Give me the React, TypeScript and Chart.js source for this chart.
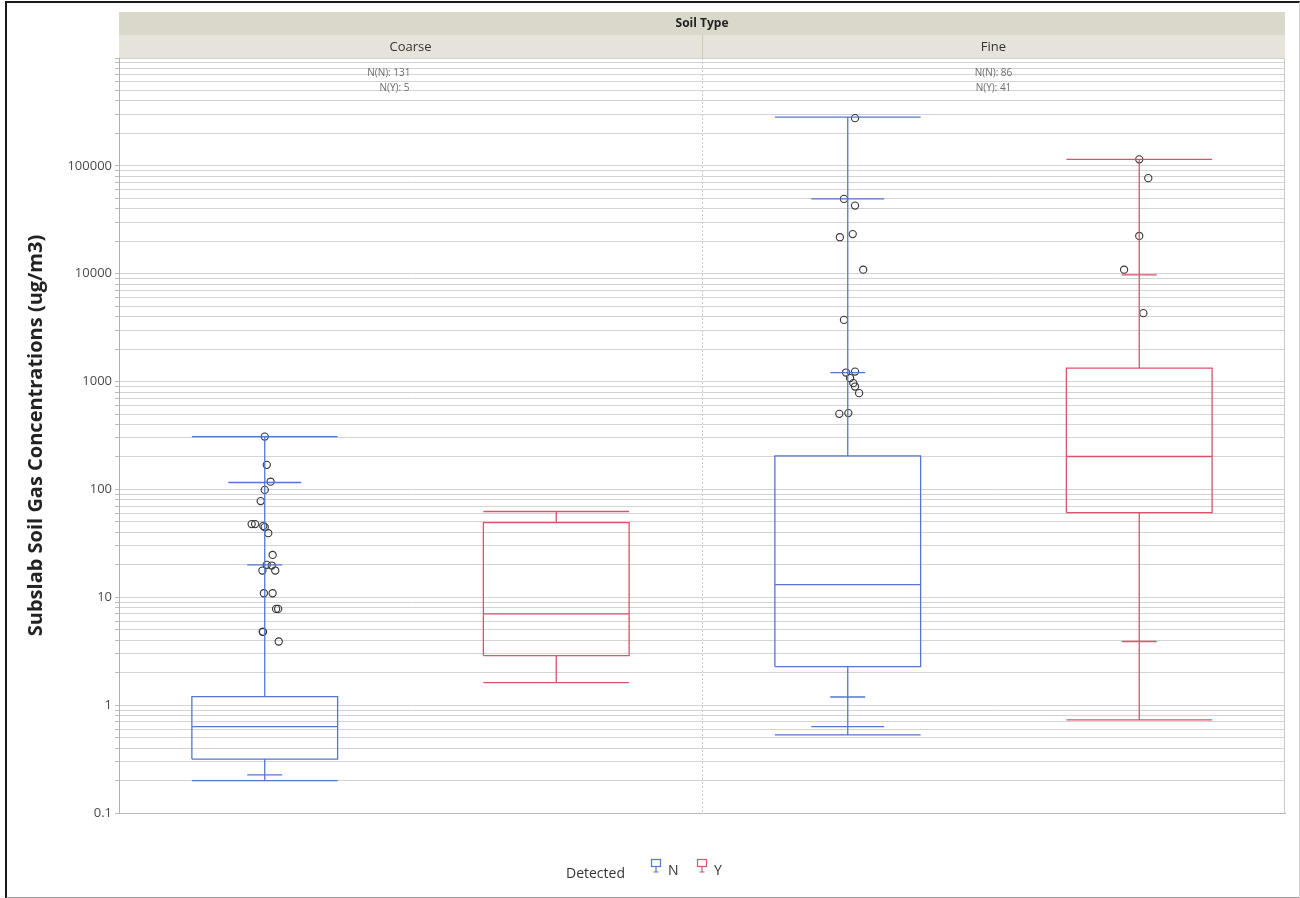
import React, { useEffect, useRef } from 'react';
import { Chart, registerables } from 'chart.js';

Chart.register(...registerables);

// ---------- data ----------
const soilTypes = ['Coarse', 'Fine'];
const detectedLevels = ['N', 'Y'];
// groups in drawing order: Coarse-N, Coarse-Y, Fine-N, Fine-Y
const groupDetected = ['N', 'Y', 'N', 'Y'];
const countN = [131, 86];
const countY = [5, 41];

const boxQ1 = [0.316, 2.88, 2.28, 61];
const boxMedian = [0.633, 7.02, 13.1, 202];
const boxQ3 = [1.2, 49.3, 205, 1331];
const extremeLow = [0.2, 1.62, 0.531, 0.73];
const extremeHigh = [309, 62.4, 283000, 115000];
const innerLow: (number | null)[] = [null, null, 0.633, null];
const innerHigh: (number | null)[] = [116, null, 49400, 115000];
const fenceLow: (number | null)[] = [0.226, null, 1.19, 3.89];
const fenceHigh: (number | null)[] = [20, null, 1213, 9750];

const coarseNPoints = [309, 169, 118, 99, 78, 47.7, 47.7, 45.9, 44.7, 39.3, 24.7, 20, 19.7, 17.7, 17.7, 10.9, 10.9, 7.8, 7.8, 4.78, 4.78, 3.89];
const coarseNJitter = [0, 0.007, 0.02, 0, -0.014, -0.045, -0.033, -0.005, 0, 0.012, 0.027, 0.007, 0.024, -0.008, 0.036, -0.003, 0.027, 0.039, 0.046, -0.007, -0.006, 0.048];
const coarseYPoints: number[] = [];
const coarseYJitter: number[] = [];
const fineNPoints = [277000, 49400, 42800, 23300, 21800, 10900, 3730, 1213, 1238, 1076, 967, 899, 781, 502, 510];
const fineNJitter = [0.025, -0.013, 0.025, 0.017, -0.027, 0.053, -0.013, -0.006, 0.025, 0.008, 0.019, 0.025, 0.039, -0.029, 0.002];
const fineYPoints = [115000, 76900, 22400, 10900, 4310];
const fineYJitter = [0, 0.031, 0, -0.052, 0.014];

const groupPoints = [coarseNPoints, coarseYPoints, fineNPoints, fineYPoints];
const groupJitter = [coarseNJitter, coarseYJitter, fineNJitter, fineYJitter];

const yTickValues = [0.1, 1, 10, 100, 1000, 10000, 100000];
const yTickLabels = ['0.1', '1', '10', '100', '1000', '10000', '100000'];

const yTitle = 'Subslab Soil Gas Concentrations (ug/m3)';
const facetTitle = 'Soil Type';
const legendTitle = 'Detected';

// ---------- styling ----------
const colorFor: Record<string, string> = { N: '#5476d2', Y: '#da546c' };
const FONT = "'Open Sans', 'Noto Sans', sans-serif";

function buildMinorTicks(): number[] {
  const out: number[] = [];
  for (let e = -1; e <= 5; e++) {
    for (let m = 1; m <= 9; m++) out.push(Number((m * Math.pow(10, e)).toPrecision(3)));
  }
  out.push(1000000);
  return out;
}

type P = { x: number; y: number | null };

function boxSegments(i: number): P[] {
  const c = i + 0.5;
  const hw = 0.25;
  const mw = 0.125;
  const sw = 0.06;
  const pts: P[] = [];
  const seg = (...p: P[]) => {
    pts.push(...p, { x: c, y: null });
  };
  const q1 = boxQ1[i], q3 = boxQ3[i], med = boxMedian[i];
  seg({ x: c - hw, y: q1 }, { x: c + hw, y: q1 }, { x: c + hw, y: q3 }, { x: c - hw, y: q3 }, { x: c - hw, y: q1 });
  seg({ x: c - hw, y: med }, { x: c + hw, y: med });
  seg({ x: c, y: q3 }, { x: c, y: extremeHigh[i] });
  seg({ x: c, y: q1 }, { x: c, y: extremeLow[i] });
  seg({ x: c - hw, y: extremeHigh[i] }, { x: c + hw, y: extremeHigh[i] });
  seg({ x: c - hw, y: extremeLow[i] }, { x: c + hw, y: extremeLow[i] });
  const il = innerLow[i], ih = innerHigh[i], fl = fenceLow[i], fh = fenceHigh[i];
  if (ih != null) seg({ x: c - mw, y: ih }, { x: c + mw, y: ih });
  if (il != null) seg({ x: c - mw, y: il }, { x: c + mw, y: il });
  if (fh != null) seg({ x: c - sw, y: fh }, { x: c + sw, y: fh });
  if (fl != null) seg({ x: c - sw, y: fl }, { x: c + sw, y: fl });
  return pts;
}

function drawLegendIcon(ctx: CanvasRenderingContext2D, x: number, y: number, color: string) {
  ctx.save();
  ctx.strokeStyle = color;
  ctx.lineWidth = 1.2;
  ctx.strokeRect(x + 0.5, y + 0.5, 9, 7);
  ctx.beginPath();
  ctx.moveTo(x + 5, y + 7.5);
  ctx.lineTo(x + 5, y + 13);
  ctx.moveTo(x + 2.5, y + 13);
  ctx.lineTo(x + 7.5, y + 13);
  ctx.stroke();
  ctx.restore();
}

const decorPlugin = {
  id: 'decor',
  beforeDraw(chart: any) {
    const { ctx, chartArea: a, scales } = chart;
    const x = scales.x;
    ctx.save();
    ctx.fillStyle = '#ffffff';
    ctx.fillRect(0, 0, chart.width, chart.height);
    // facet header
    ctx.fillStyle = '#dad7cb';
    ctx.fillRect(a.left, a.top - 46, a.right - a.left, 23);
    ctx.fillStyle = '#e6e3da';
    ctx.fillRect(a.left, a.top - 23, a.right - a.left, 23);
    const mid = x.getPixelForValue(2);
    ctx.strokeStyle = '#cfccc1';
    ctx.lineWidth = 1;
    ctx.beginPath();
    ctx.moveTo(Math.round(mid) + 0.5, a.top - 23);
    ctx.lineTo(Math.round(mid) + 0.5, a.top);
    ctx.stroke();
    ctx.fillStyle = '#222';
    ctx.textAlign = 'center';
    ctx.textBaseline = 'middle';
    ctx.font = `bold 12px ${FONT}`;
    ctx.fillText(facetTitle, (a.left + a.right) / 2, a.top - 34);
    ctx.font = `13px ${FONT}`;
    ctx.fillStyle = '#333';
    soilTypes.forEach((s, k) => {
      const cx = (x.getPixelForValue(k * 2) + x.getPixelForValue(k * 2 + 2)) / 2;
      ctx.fillText(s, cx, a.top - 11);
    });
    ctx.restore();
  },
  beforeDatasetsDraw(chart: any) {
    const { ctx, chartArea: a, scales } = chart;
    const x = scales.x;
    ctx.save();
    const mid = Math.round(x.getPixelForValue(2)) + 0.5;
    ctx.strokeStyle = '#cccccc';
    ctx.lineWidth = 1;
    ctx.setLineDash([2, 2]);
    ctx.beginPath();
    ctx.moveTo(mid, a.top);
    ctx.lineTo(mid, a.bottom);
    ctx.stroke();
    ctx.setLineDash([]);
    ctx.strokeStyle = '#c8c8c8';
    ctx.beginPath();
    ctx.moveTo(Math.round(a.right) - 0.5, a.top);
    ctx.lineTo(Math.round(a.right) - 0.5, a.bottom);
    ctx.stroke();
    // counts
    ctx.font = `10px ${FONT}`;
    ctx.fillStyle = '#6b6b6b';
    ctx.textBaseline = 'middle';
    soilTypes.forEach((s, k) => {
      const cx = (x.getPixelForValue(k * 2) + x.getPixelForValue(k * 2 + 2)) / 2;
      ctx.textAlign = k === 0 ? 'right' : 'center';
      ctx.fillText(`N(N): ${countN[k]}`, cx, a.top + 15);
      ctx.fillText(`N(Y): ${countY[k]}`, cx - (k === 0 ? 1 : 0), a.top + 30);
    });
    ctx.restore();
  },
  afterDraw(chart: any) {
    const { ctx } = chart;
    ctx.save();
    ctx.font = `14px ${FONT}`;
    ctx.fillStyle = '#333';
    ctx.textBaseline = 'middle';
    ctx.textAlign = 'left';
    ctx.fillText(legendTitle, 566, 874);
    let lx = 651;
    detectedLevels.forEach((d) => {
      drawLegendIcon(ctx, lx, 859, colorFor[d]);
      ctx.fillStyle = '#333';
      ctx.fillText(d, lx + 17, 871);
      lx += 46;
    });
    ctx.restore();
  },
};

export default function App() {
  const ref = useRef<HTMLCanvasElement | null>(null);

  useEffect(() => {
    if (!ref.current) return;
    Chart.defaults.font.family = FONT;
    const minorTicks = buildMinorTicks();

    const datasets: any[] = [];
    groupDetected.forEach((d, i) => {
      datasets.push({
        label: `box-${i}`,
        data: boxSegments(i),
        showLine: true,
        spanGaps: false,
        borderColor: colorFor[d],
        borderWidth: 1.3,
        pointRadius: 0,
        pointHoverRadius: 0,
        fill: false,
      });
    });
    groupDetected.forEach((d, i) => {
      const pts = groupPoints[i];
      if (!pts.length) return;
      datasets.push({
        label: `pts-${i}`,
        data: pts.map((v, j) => ({ x: i + 0.5 + groupJitter[i][j], y: v })),
        showLine: false,
        pointRadius: 3.6,
        pointBorderWidth: 1.1,
        pointBorderColor: '#333333',
        pointBackgroundColor: 'rgba(0,0,0,0)',
      });
    });

    const chart = new Chart(ref.current, {
      type: 'scatter',
      data: { datasets },
      plugins: [decorPlugin],
      options: {
        responsive: false,
        animation: false,
        events: [],
        layout: { padding: { left: 0, top: 58, right: 15, bottom: 85 } },
        plugins: {
          legend: { display: false },
          tooltip: { enabled: false },
          title: { display: false },
        },
        scales: {
          x: {
            type: 'linear',
            min: 0,
            max: 4,
            grid: { display: false },
            border: { display: true, color: '#b8b8b8', width: 1 },
            ticks: { display: false },
            afterFit: (s: any) => {
              s.height = 0;
            },
          },
          y: {
            type: 'logarithmic',
            min: 0.1,
            max: 1000000,
            afterBuildTicks: (s: any) => {
              s.ticks = minorTicks.map((v) => ({ value: v }));
            },
            afterFit: (s: any) => {
              s.width = 119;
            },
            grid: {
              color: '#d3d3d3',
              lineWidth: 1,
              drawTicks: true,
              tickLength: 4,
              tickColor: '#bbbbbb',
            },
            border: { display: true, color: '#b0b0b0', width: 1 },
            ticks: {
              autoSkip: false,
              padding: 3,
              color: '#4a4a4a',
              font: { size: 13, family: FONT },
              callback: (v: any) => {
                const idx = yTickValues.findIndex((t) => Math.abs(t - Number(v)) / t < 1e-6);
                return idx >= 0 ? yTickLabels[idx] : '';
              },
            },
            title: {
              display: true,
              text: yTitle,
              color: '#222',
              font: { size: 20, weight: 'bold', family: FONT },
              padding: { top: 24, bottom: 0 },
            },
          },
        },
      } as any,
    });
    return () => chart.destroy();
  }, []);

  return (
    <div style={{ position: 'fixed', left: 0, top: 0, width: 1300, height: 898, background: '#fff' }}>
      <canvas ref={ref} width={1300} height={898} style={{ display: 'block', width: 1300, height: 898 }} />
      <div
        style={{
          position: 'absolute',
          left: 5,
          top: 1,
          width: 1292,
          height: 894,
          borderLeft: '2px solid #1a1a1a',
          borderTop: '2px solid #1a1a1a',
          borderBottom: '2px solid #9a9a9a',
          borderRight: '1px solid #d0d0d0',
          pointerEvents: 'none',
        }}
      />
    </div>
  );
}
